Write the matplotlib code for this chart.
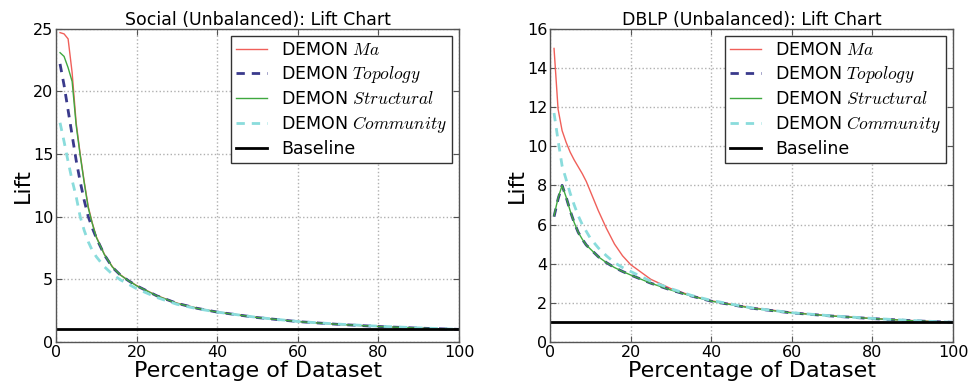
import matplotlib
matplotlib.use("Agg")
import matplotlib.pyplot as plt

plt.rcParams['mathtext.fontset'] = 'cm'
plt.rcParams['font.family'] = 'DejaVu Sans'

# percentuale del dataset (asse x)
pct = [1, 2, 3, 4, 5, 6, 7, 8, 9, 10, 12, 14, 16, 18, 20, 25, 30, 35, 40, 50, 60, 70, 80, 90, 100]

# Social
soc_ma = [24.7, 24.6, 24.2, 21.5, 17.5, 15.0, 12.8, 10.8, 9.5, 8.4, 7.0, 6.0, 5.35, 4.9, 4.5,
          3.7, 3.1, 2.7, 2.4, 1.95, 1.63, 1.4, 1.23, 1.1, 1.0]
soc_topology = [22.2, 20.5, 18.5, 16.5, 14.5, 12.8, 11.3, 10.0, 9.1, 8.3, 6.95, 5.95, 5.33, 4.88, 4.48,
                3.68, 3.08, 2.68, 2.38, 1.94, 1.62, 1.4, 1.23, 1.1, 1.0]
soc_structural = [23.1, 22.8, 21.9, 20.8, 17.3, 14.9, 12.7, 10.7, 9.45, 8.35, 6.97, 5.97, 5.33, 4.88, 4.48,
                  3.68, 3.08, 2.68, 2.38, 1.94, 1.62, 1.4, 1.23, 1.1, 1.0]
soc_community = [17.5, 16.0, 14.4, 12.9, 11.6, 10.0, 8.9, 8.0, 7.3, 6.8, 6.0, 5.4, 4.95, 4.6, 4.25,
                 3.55, 3.0, 2.65, 2.38, 1.95, 1.63, 1.42, 1.25, 1.12, 1.0]

# DBLP
dblp_ma = [15.0, 11.9, 10.8, 10.2, 9.7, 9.3, 8.95, 8.6, 8.2, 7.7, 6.7, 5.8, 5.0, 4.4, 3.95,
           3.2, 2.72, 2.37, 2.1, 1.75, 1.5, 1.33, 1.2, 1.09, 1.0]
dblp_topology = [6.4, 7.3, 8.0, 7.4, 6.7, 6.1, 5.6, 5.25, 4.95, 4.75, 4.35, 4.05, 3.8, 3.6, 3.42,
                 3.0, 2.65, 2.35, 2.08, 1.72, 1.48, 1.32, 1.19, 1.08, 1.0]
dblp_structural = [6.45, 7.35, 8.0, 7.4, 6.7, 6.1, 5.6, 5.25, 4.95, 4.75, 4.35, 4.05, 3.8, 3.6, 3.42,
                   3.0, 2.65, 2.35, 2.08, 1.72, 1.48, 1.32, 1.19, 1.08, 1.0]
dblp_community = [11.7, 10.3, 9.0, 8.3, 7.6, 7.0, 6.45, 6.0, 5.65, 5.3, 4.8, 4.4, 4.05, 3.8, 3.6,
                  3.1, 2.72, 2.38, 2.12, 1.74, 1.49, 1.33, 1.2, 1.09, 1.0]

baseline_x = [0, 100]
baseline_y = [1, 1]

labels = ['DEMON $Ma$', 'DEMON $Topology$', 'DEMON $Structural$',
          'DEMON $Community$', 'Baseline']


def disegna(ax, ma, topo, struct, comm, titolo, ymax, ystep):
    ax.plot(pct, ma, color='#f0605a', lw=1.0, label=labels[0])
    ax.plot(pct, topo, color='#3a3a8c', lw=2.0, ls=(0, (3, 2.5)), label=labels[1])
    ax.plot(pct, struct, color='#3fa83f', lw=1.0, label=labels[2])
    ax.plot(pct, comm, color='#8adcdc', lw=2.0, ls=(0, (3, 2.5)), label=labels[3])
    ax.plot(baseline_x, baseline_y, color='black', lw=2.0, label=labels[4])
    ax.set_xlim(0, 100)
    ax.set_ylim(0, ymax)
    ax.set_xticks(range(0, 101, 20))
    ax.set_yticks(range(0, ymax + 1, ystep))
    ax.grid(True, color='#b0b0b0', ls=':', lw=1.0)
    ax.tick_params(direction='in', top=True, right=True, labelsize=11.5,
                   length=4, color='#555555', pad=2)
    for s in ax.spines.values():
        s.set_color('#555555')
        s.set_linewidth(1.0)
    ax.set_title(titolo, fontsize=12.5, pad=3)
    ax.set_xlabel('Percentage of Dataset', fontsize=16, labelpad=1)
    ax.set_ylabel('Lift', fontsize=16, labelpad=0)
    leg = ax.legend(loc='upper right', fontsize=12.5, fancybox=False, framealpha=1,
                    handlelength=1.8, borderaxespad=0.4, labelspacing=0.3,
                    borderpad=0.3, handletextpad=0.8)
    leg.get_frame().set_edgecolor('#333333')
    leg.get_frame().set_linewidth(1.0)


fig = plt.figure(figsize=(9.69, 3.85), dpi=100)
ax1 = fig.add_axes([0.0578, 0.112, 0.416, 0.813])
ax2 = fig.add_axes([0.5676, 0.112, 0.416, 0.813])

disegna(ax1, soc_ma, soc_topology, soc_structural, soc_community,
        'Social (Unbalanced): Lift Chart', 25, 5)
disegna(ax2, dblp_ma, dblp_topology, dblp_structural, dblp_community,
        'DBLP (Unbalanced): Lift Chart', 16, 2)

fig.savefig('out.png', dpi=100)
